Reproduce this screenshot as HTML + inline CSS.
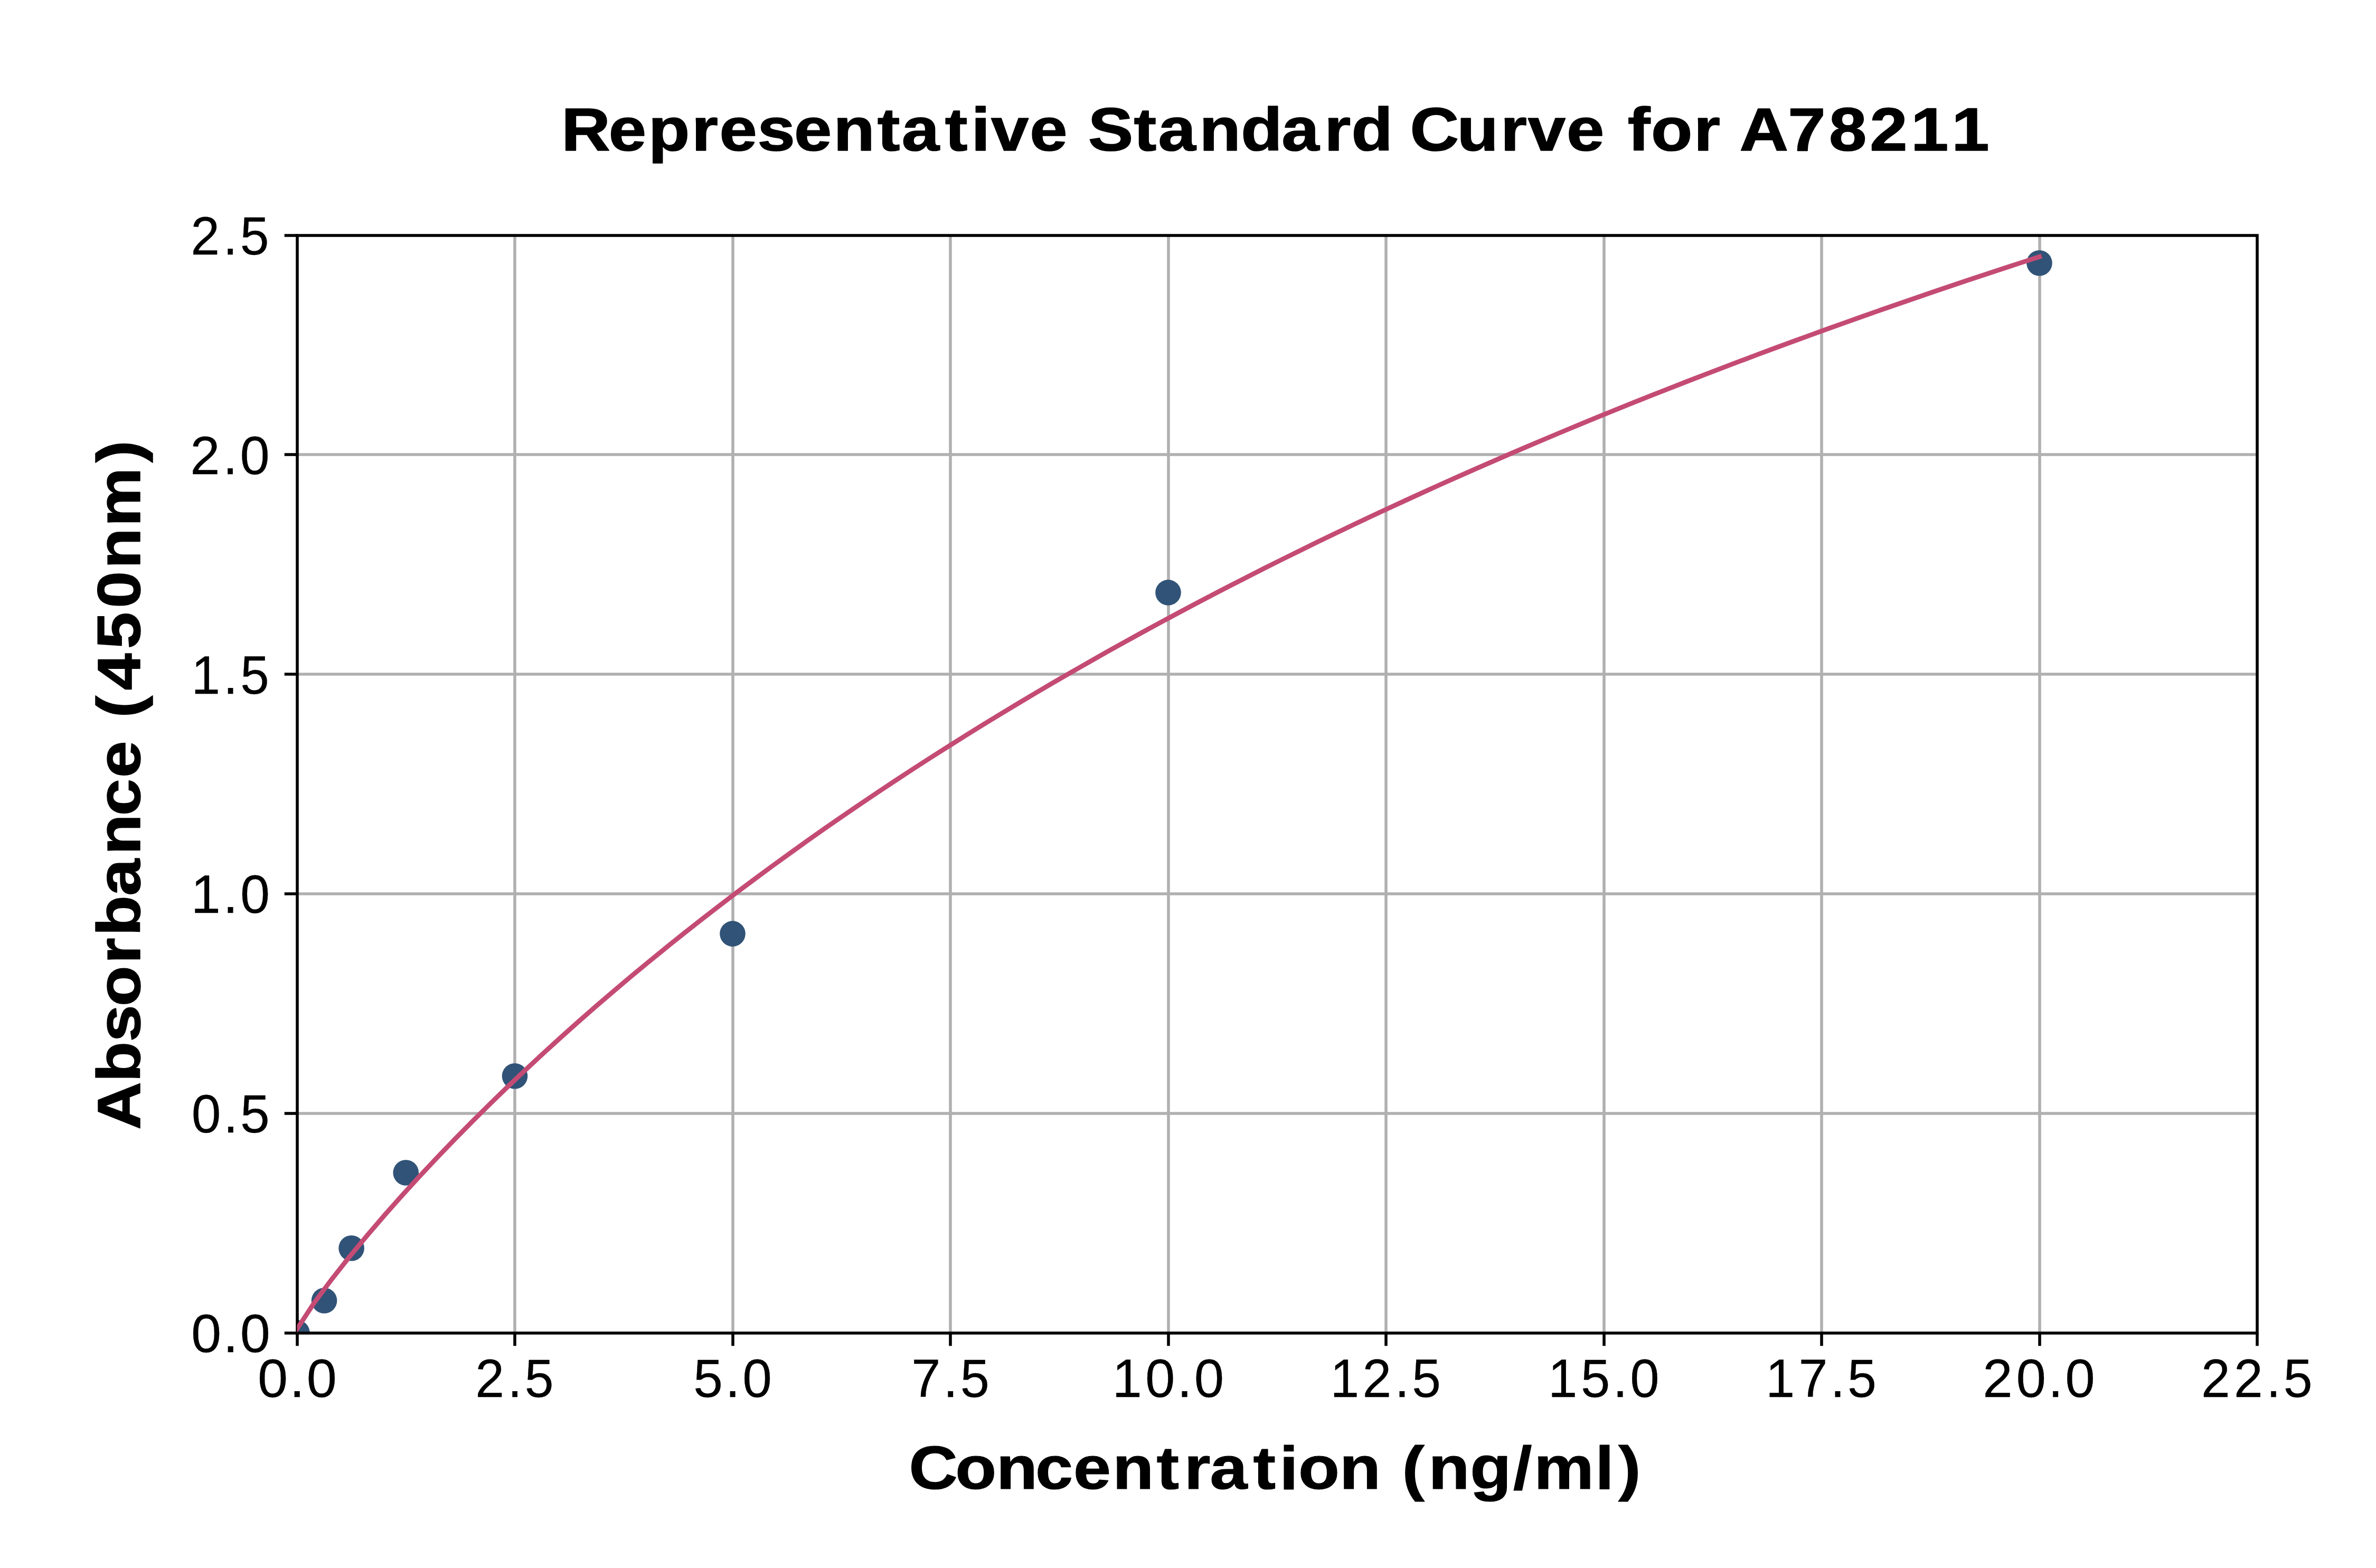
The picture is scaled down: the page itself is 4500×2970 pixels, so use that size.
<!DOCTYPE html>
<html lang="en">
<head>
<meta charset="utf-8">
<title>Representative Standard Curve for A78211</title>
<style>
html,body{margin:0;padding:0;background:#ffffff;}
body{width:4500px;height:2970px;font-family:"Liberation Sans",sans-serif;}
svg{display:block;}
text{font-family:"Liberation Sans",sans-serif;fill:#000000;}
.b{font-weight:bold;}
</style>
</head>
<body>
<svg width="4500" height="2970" viewBox="0 0 4500 2970">
<rect x="0" y="0" width="4500" height="2970" fill="#ffffff"/>
<defs><clipPath id="ax"><rect x="562.50" y="445.50" width="3712.50" height="2079.00"/></clipPath></defs>
<g stroke="#b0b0b0" stroke-width="5.56" fill="none" shape-rendering="auto">
<line x1="975.00" y1="446.00" x2="975.00" y2="2525.00"/>
<line x1="1388.00" y1="446.00" x2="1388.00" y2="2525.00"/>
<line x1="1800.00" y1="446.00" x2="1800.00" y2="2525.00"/>
<line x1="2213.00" y1="446.00" x2="2213.00" y2="2525.00"/>
<line x1="2625.00" y1="446.00" x2="2625.00" y2="2525.00"/>
<line x1="3038.00" y1="446.00" x2="3038.00" y2="2525.00"/>
<line x1="3450.00" y1="446.00" x2="3450.00" y2="2525.00"/>
<line x1="3863.00" y1="446.00" x2="3863.00" y2="2525.00"/>
<line x1="563.00" y1="2109.00" x2="4275.00" y2="2109.00"/>
<line x1="563.00" y1="1693.00" x2="4275.00" y2="1693.00"/>
<line x1="563.00" y1="1277.00" x2="4275.00" y2="1277.00"/>
<line x1="563.00" y1="861.00" x2="4275.00" y2="861.00"/>
</g>
<g clip-path="url(#ax)" fill="#315377">
<circle cx="562.50" cy="2524.50" r="24.30"/>
<circle cx="614.06" cy="2463.54" r="24.30"/>
<circle cx="665.62" cy="2364.25" r="24.30"/>
<circle cx="768.75" cy="2221.30" r="24.30"/>
<circle cx="975.00" cy="2038.26" r="24.30"/>
<circle cx="1387.50" cy="1768.58" r="24.30"/>
<circle cx="2212.50" cy="1122.42" r="24.30"/>
<circle cx="3862.50" cy="498.22" r="24.30"/>
</g>
<g stroke="#000000" stroke-width="5.56" fill="none">
<line x1="563.00" y1="2525.00" x2="563.00" y2="2549.30"/>
<line x1="975.00" y1="2525.00" x2="975.00" y2="2549.30"/>
<line x1="1388.00" y1="2525.00" x2="1388.00" y2="2549.30"/>
<line x1="1800.00" y1="2525.00" x2="1800.00" y2="2549.30"/>
<line x1="2213.00" y1="2525.00" x2="2213.00" y2="2549.30"/>
<line x1="2625.00" y1="2525.00" x2="2625.00" y2="2549.30"/>
<line x1="3038.00" y1="2525.00" x2="3038.00" y2="2549.30"/>
<line x1="3450.00" y1="2525.00" x2="3450.00" y2="2549.30"/>
<line x1="3863.00" y1="2525.00" x2="3863.00" y2="2549.30"/>
<line x1="4275.00" y1="2525.00" x2="4275.00" y2="2549.30"/>
<line x1="538.70" y1="2525.00" x2="563.00" y2="2525.00"/>
<line x1="538.70" y1="2109.00" x2="563.00" y2="2109.00"/>
<line x1="538.70" y1="1693.00" x2="563.00" y2="1693.00"/>
<line x1="538.70" y1="1277.00" x2="563.00" y2="1277.00"/>
<line x1="538.70" y1="861.00" x2="563.00" y2="861.00"/>
<line x1="538.70" y1="446.00" x2="563.00" y2="446.00"/>
</g>
<rect x="563.00" y="446.00" width="3712.00" height="2079.00" fill="none" stroke="#000000" stroke-width="5.56" stroke-linejoin="miter"/>
<g clip-path="url(#ax)"><polyline points="562.50,2517.28 595.83,2466.54 629.17,2421.92 662.50,2379.84 695.83,2339.58 729.17,2300.76 762.50,2263.19 795.83,2226.70 829.17,2191.19 862.50,2156.58 895.83,2122.80 929.17,2089.79 962.50,2057.51 995.83,2025.91 1029.17,1994.96 1062.50,1964.63 1095.83,1934.89 1129.17,1905.71 1162.50,1877.07 1195.83,1848.95 1229.17,1821.32 1262.50,1794.18 1295.83,1767.49 1329.17,1741.26 1362.50,1715.45 1395.83,1690.06 1429.17,1665.08 1462.50,1640.49 1495.83,1616.29 1529.17,1592.45 1562.50,1568.97 1595.83,1545.84 1629.17,1523.05 1662.50,1500.59 1695.83,1478.46 1729.17,1456.63 1762.50,1435.12 1795.83,1413.90 1829.17,1392.97 1862.50,1372.33 1895.83,1351.96 1929.17,1331.86 1962.50,1312.03 1995.83,1292.46 2029.17,1273.14 2062.50,1254.06 2095.83,1235.23 2129.17,1216.64 2162.50,1198.27 2195.83,1180.14 2229.17,1162.22 2262.50,1144.52 2295.83,1127.04 2329.17,1109.76 2362.50,1092.69 2395.83,1075.82 2429.17,1059.14 2462.50,1042.66 2495.83,1026.36 2529.17,1010.25 2562.50,994.33 2595.83,978.58 2629.17,963.00 2662.50,947.60 2695.83,932.37 2729.17,917.30 2762.50,902.40 2795.83,887.66 2829.17,873.07 2862.50,858.64 2895.83,844.36 2929.17,830.23 2962.50,816.24 2995.83,802.40 3029.17,788.71 3062.50,775.15 3095.83,761.72 3129.17,748.44 3162.50,735.28 3195.83,722.26 3229.17,709.37 3262.50,696.60 3295.83,683.95 3329.17,671.43 3362.50,659.03 3395.83,646.75 3429.17,634.58 3462.50,622.53 3495.83,610.60 3529.17,598.77 3562.50,587.06 3595.83,575.45 3629.17,563.95 3662.50,552.56 3695.83,541.27 3729.17,530.08 3762.50,518.99 3795.83,508.00 3829.17,497.11 3862.50,486.32" fill="none" stroke="#c44b73" stroke-width="8.90" stroke-linecap="square" stroke-linejoin="round"/></g>
<text class="b" transform="translate(1067.13,285.00) scale(1.1351,1.0134)" font-size="113.00" x="-3.39 75.45 141.63 213.94 260.20 323.62 384.87 450.43 523.84 564.38 636.70 680.52 713.49 778.00 843.15 875.32 951.86 992.39 1061.01 1130.32 1198.23 1269.69 1314.74 1384.80 1412.54 1491.00 1563.67 1609.25 1673.76 1738.92 1775.76 1814.70 1886.10 1931.13 1962.37 2043.05 2111.62 2179.76 2248.12 2316.24" stroke="#000000" stroke-width="1.57" stroke-linejoin="round">Representative Standard Curve for A78211</text>
<text class="b" transform="translate(1729.11,2819.57) scale(1.1300,1.0194)" font-size="113.00" x="-6.75 70.87 139.73 205.17 268.86 334.73 408.40 454.56 497.68 570.27 614.27 646.03 714.89 784.34 819.77 864.08 933.76 1006.19 1040.81 1143.53 1182.16" stroke="#000000" stroke-width="1.21" stroke-linejoin="round">Concentration (ng/ml)</text>
<text class="b" transform="translate(264.55,2140.89) rotate(-90) scale(1.1109,1.0228)" font-size="113.00" x="1.00 82.26 150.93 211.42 284.16 331.46 399.77 469.90 536.43 601.20 667.09 703.50 750.41 820.81 890.29 957.61 1029.50 1138.40" stroke="#000000" stroke-width="1.50" stroke-linejoin="round">Absorbance (450nm)</text>
<text transform="translate(487.62,2645.97) scale(1.0384,1.0288)" font-size="99.00" x="0.28 58.71 89.63" stroke="#000000" stroke-width="0.32" stroke-linejoin="round">0.0</text>
<text transform="translate(900.24,2645.97) scale(0.9946,1.0288)" font-size="99.00" x="-0.12 61.57 94.08" stroke="#000000" stroke-width="0.32" stroke-linejoin="round">2.5</text>
<text transform="translate(1313.66,2645.97) scale(1.0119,1.0288)" font-size="99.00" x="-0.48 59.50 91.60" stroke="#000000" stroke-width="0.32" stroke-linejoin="round">5.0</text>
<text transform="translate(1725.21,2645.97) scale(1.0011,1.0292)" font-size="99.00" x="0.97 61.26 93.46" stroke="#000000" stroke-width="0.32" stroke-linejoin="round">7.5</text>
<text transform="translate(2106.67,2645.97) scale(1.0242,1.0288)" font-size="99.00" x="-0.14 60.77 119.82 151.36" stroke="#000000" stroke-width="0.32" stroke-linejoin="round">10.0</text>
<text transform="translate(2519.24,2645.97) scale(0.9931,1.0288)" font-size="99.00" x="0.19 61.67 123.43 156.01" stroke="#000000" stroke-width="0.32" stroke-linejoin="round">12.5</text>
<text transform="translate(2931.67,2645.97) scale(1.0053,1.0288)" font-size="99.00" x="0.40 62.04 122.32 154.71" stroke="#000000" stroke-width="0.32" stroke-linejoin="round">15.0</text>
<text transform="translate(3344.24,2645.97) scale(0.9976,1.0292)" font-size="99.00" x="0.06 62.36 122.81 155.17" stroke="#000000" stroke-width="0.32" stroke-linejoin="round">17.5</text>
<text transform="translate(3755.61,2645.97) scale(1.0263,1.0288)" font-size="99.00" x="-0.35 61.19 120.15 151.60" stroke="#000000" stroke-width="0.32" stroke-linejoin="round">20.0</text>
<text transform="translate(4168.12,2645.97) scale(0.9957,1.0288)" font-size="99.00" x="0.98 63.12 124.75 157.21" stroke="#000000" stroke-width="0.32" stroke-linejoin="round">22.5</text>
<text transform="translate(362.14,2561.44) scale(1.0384,1.0288)" font-size="99.00" x="-0.21 58.22 89.14" stroke="#000000" stroke-width="0.32" stroke-linejoin="round">0.0</text>
<text transform="translate(362.19,2144.66) scale(1.0119,1.0288)" font-size="99.00" x="0.45 60.05 91.77" stroke="#000000" stroke-width="0.32" stroke-linejoin="round">0.5</text>
<text transform="translate(362.28,1728.87) scale(1.0185,1.0288)" font-size="99.00" x="-0.58 59.21 91.00" stroke="#000000" stroke-width="0.32" stroke-linejoin="round">1.0</text>
<text transform="translate(362.39,1314.07) scale(0.9907,1.0292)" font-size="99.00" x="0.10 61.15 93.83" stroke="#000000" stroke-width="0.32" stroke-linejoin="round">1.5</text>
<text transform="translate(360.13,898.28) scale(1.0218,1.0288)" font-size="99.00" x="0.24 60.65 92.30" stroke="#000000" stroke-width="0.32" stroke-linejoin="round">2.0</text>
<text transform="translate(361.24,482.44) scale(0.9946,1.0288)" font-size="99.00" x="-0.12 61.57 94.08" stroke="#000000" stroke-width="0.32" stroke-linejoin="round">2.5</text>
</svg>
</body>
</html>
